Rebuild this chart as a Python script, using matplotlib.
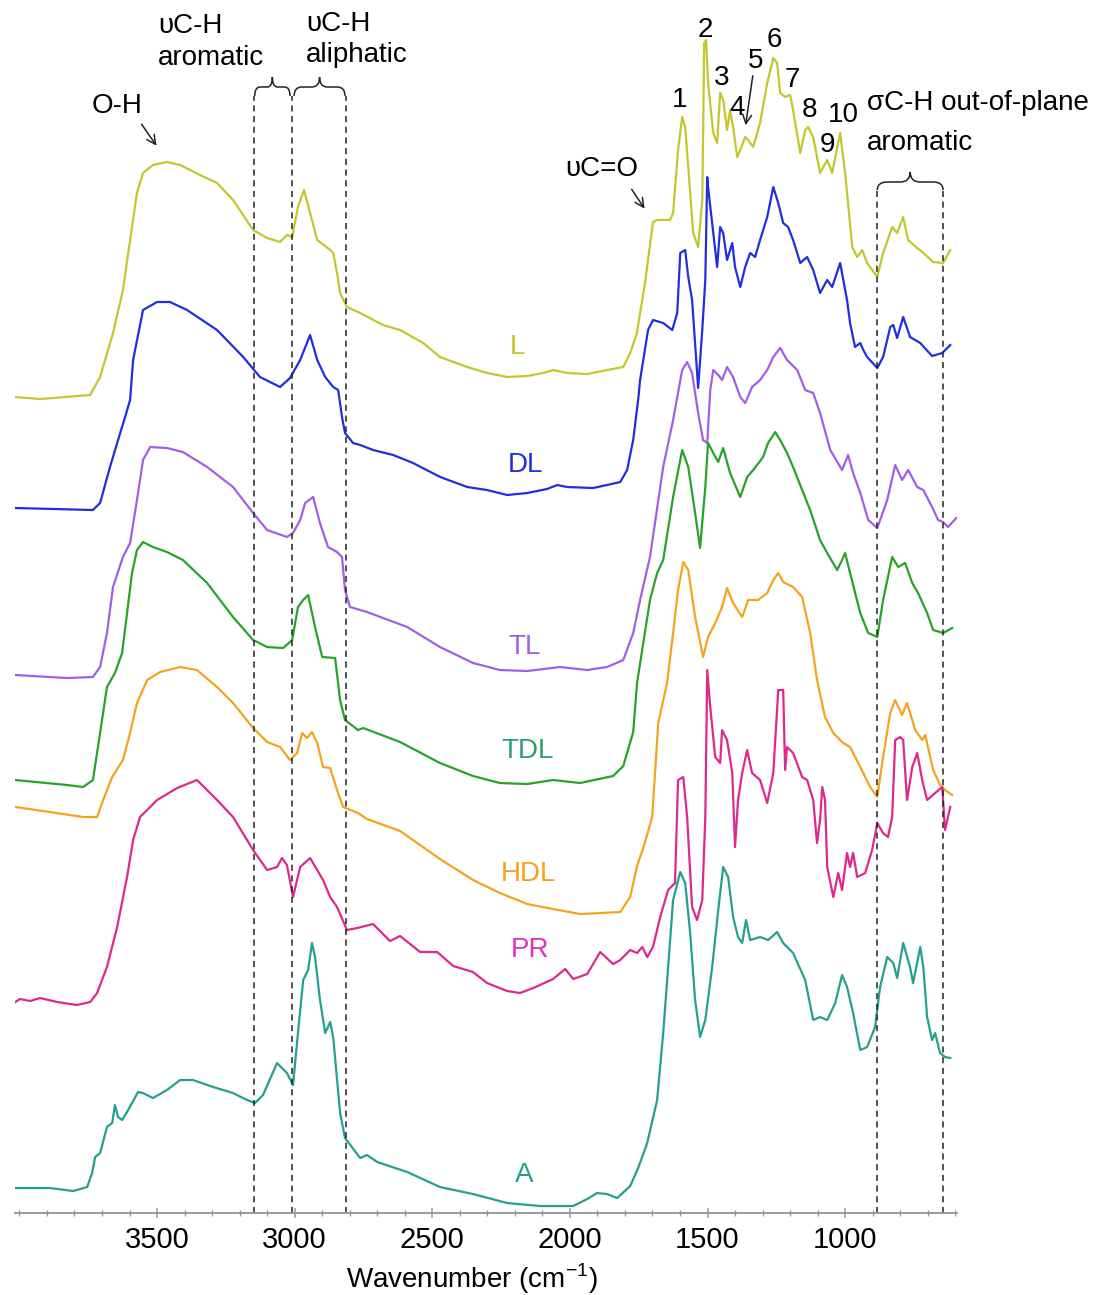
import matplotlib
matplotlib.use('Agg')
import matplotlib.pyplot as plt
from matplotlib.path import Path
from matplotlib.patches import PathPatch
from matplotlib.ticker import MultipleLocator

plt.rcParams['font.family'] = ['Liberation Sans', 'DejaVu Sans']
plt.rcParams['mathtext.fontset'] = 'custom'
plt.rcParams['mathtext.rm'] = 'Liberation Sans'

# FTIR spectra, wavenumber (cm-1) vs absorbance (stacked, arbitrary units)
wn_L = [4015, 3925, 3743, 3707, 3660, 3624, 3598, 3573, 3551, 3515, 3464, 3416, 3344, 3282, 3224, 3151, 3100, 3053,
        3028, 3009, 2988, 2966, 2944, 2918, 2871, 2860, 2846, 2835, 2810, 2762, 2679, 2617, 2533, 2472, 2373, 2301,
        2228, 2155, 2097, 2061, 2010, 1937, 1865, 1806, 1781, 1756, 1745, 1727, 1698, 1683, 1636, 1625, 1607, 1592,
        1581, 1570, 1552, 1534, 1519, 1512, 1505, 1498, 1479, 1465, 1454, 1443, 1429, 1418, 1407, 1392, 1381, 1363,
        1352, 1334, 1309, 1283, 1261, 1247, 1236, 1218, 1200, 1189, 1163, 1145, 1134, 1116, 1091, 1065, 1047, 1018,
        1000, 974, 956, 938, 920, 883, 862, 829, 811, 789, 771, 738, 716, 680, 644, 618]
ab_L = [8.16, 8.14, 8.18, 8.36, 8.80, 9.23, 9.73, 10.20, 10.40, 10.48, 10.51, 10.48, 10.38, 10.30, 10.13, 9.83, 9.75,
        9.71, 9.78, 9.76, 10.06, 10.23, 10.00, 9.73, 9.63, 9.60, 9.40, 9.20, 9.06, 9.00, 8.88, 8.83, 8.70, 8.56, 8.46,
        8.40, 8.36, 8.37, 8.40, 8.43, 8.40, 8.39, 8.43, 8.46, 8.60, 8.80, 9.00, 9.30, 9.91, 9.93, 9.93, 10.00, 10.63,
        10.96, 10.86, 10.46, 9.80, 9.66, 10.13, 11.70, 11.73, 11.30, 10.80, 10.70, 11.20, 11.13, 10.83, 11.03, 10.86,
        10.56, 10.63, 10.76, 10.73, 10.66, 10.90, 11.30, 11.55, 11.50, 11.20, 11.16, 11.18, 11.03, 10.60, 10.83, 10.86,
        10.76, 10.40, 10.53, 10.40, 10.80, 10.40, 9.66, 9.56, 9.63, 9.50, 9.36, 9.60, 9.86, 9.80, 9.96, 9.73, 9.65,
        9.60, 9.51, 9.50, 9.63]

wn_DL = [4015, 3733, 3707, 3671, 3634, 3616, 3598, 3587, 3551, 3500, 3453, 3391, 3282, 3187, 3126, 3053, 3017, 2980,
         2944, 2918, 2889, 2860, 2842, 2828, 2817, 2788, 2762, 2715, 2642, 2570, 2471, 2373, 2301, 2228, 2155, 2083,
         2046, 2010, 1916, 1865, 1817, 1792, 1770, 1752, 1745, 1716, 1698, 1661, 1628, 1610, 1599, 1581, 1570, 1556,
         1534, 1519, 1508, 1501, 1498, 1479, 1465, 1454, 1443, 1429, 1410, 1400, 1381, 1363, 1345, 1327, 1309, 1283,
         1261, 1243, 1225, 1207, 1189, 1163, 1138, 1116, 1091, 1065, 1047, 1018, 993, 982, 964, 945, 934, 920, 883,
         862, 836, 825, 811, 789, 764, 727, 684, 647, 618]
ab_DL = [7.05, 7.03, 7.10, 7.46, 7.80, 7.96, 8.13, 8.53, 9.03, 9.11, 9.11, 9.03, 8.83, 8.56, 8.36, 8.26, 8.35, 8.53,
         8.78, 8.53, 8.36, 8.26, 8.23, 7.96, 7.80, 7.70, 7.68, 7.63, 7.58, 7.50, 7.36, 7.26, 7.23, 7.18, 7.20, 7.24,
         7.28, 7.26, 7.25, 7.28, 7.31, 7.43, 7.73, 8.13, 8.33, 8.83, 8.93, 8.90, 8.83, 9.00, 9.60, 9.63, 9.36, 9.13,
         8.25, 8.83, 9.33, 10.36, 10.26, 9.80, 9.46, 9.86, 9.80, 9.53, 9.70, 9.46, 9.26, 9.46, 9.60, 9.56, 9.73, 9.96,
         10.26, 10.10, 9.90, 9.86, 9.73, 9.50, 9.56, 9.43, 9.20, 9.33, 9.26, 9.50, 9.13, 8.90, 8.66, 8.70, 8.63, 8.56,
         8.45, 8.56, 8.86, 8.88, 8.75, 8.96, 8.76, 8.70, 8.57, 8.60, 8.68]

wn_TL = [4015, 3827, 3733, 3707, 3682, 3660, 3624, 3598, 3573, 3551, 3525, 3464, 3406, 3318, 3224, 3151, 3100, 3028,
         3006, 2980, 2962, 2933, 2908, 2879, 2846, 2828, 2817, 2799, 2737, 2591, 2472, 2352, 2254, 2155, 2036, 1937,
         1865, 1806, 1770, 1745, 1709, 1661, 1625, 1592, 1574, 1556, 1534, 1516, 1501, 1490, 1479, 1461, 1447, 1429,
         1407, 1381, 1363, 1338, 1309, 1283, 1261, 1236, 1211, 1174, 1145, 1116, 1091, 1054, 1011, 989, 971, 945, 916,
         883, 847, 818, 793, 771, 738, 716, 684, 662, 644, 626, 596]
ab_TL = [5.38, 5.35, 5.36, 5.46, 5.80, 6.26, 6.56, 6.70, 7.13, 7.53, 7.66, 7.65, 7.61, 7.46, 7.26, 7.00, 6.83, 6.76,
         6.80, 6.93, 7.10, 7.16, 6.90, 6.66, 6.61, 6.56, 6.23, 6.06, 6.01, 5.86, 5.66, 5.50, 5.43, 5.42, 5.46, 5.43,
         5.46, 5.53, 5.80, 6.13, 6.56, 7.46, 7.93, 8.43, 8.51, 8.40, 8.00, 7.73, 7.70, 8.23, 8.43, 8.38, 8.33, 8.46,
         8.36, 8.16, 8.10, 8.26, 8.33, 8.43, 8.56, 8.65, 8.53, 8.43, 8.23, 8.20, 8.00, 7.63, 7.43, 7.58, 7.40, 7.20,
         6.93, 6.85, 7.13, 7.48, 7.33, 7.43, 7.26, 7.23, 7.06, 6.93, 6.91, 6.86, 6.95]

wn_TDL = [4015, 3827, 3769, 3733, 3707, 3682, 3653, 3627, 3609, 3591, 3573, 3551, 3515, 3464, 3406, 3318, 3224, 3151,
          3100, 3042, 3009, 2988, 2969, 2951, 2926, 2900, 2853, 2835, 2817, 2770, 2751, 2617, 2472, 2352, 2254, 2155,
          2061, 1963, 1843, 1806, 1770, 1756, 1709, 1683, 1661, 1625, 1592, 1570, 1545, 1527, 1508, 1498, 1479, 1461,
          1443, 1418, 1381, 1356, 1334, 1298, 1280, 1254, 1236, 1211, 1189, 1156, 1127, 1091, 1065, 1029, 1011, 1000,
          982, 945, 916, 883, 862, 829, 807, 782, 756, 735, 702, 680, 644, 611]
ab_TDL = [4.33, 4.28, 4.26, 4.33, 4.80, 5.26, 5.40, 5.60, 6.00, 6.40, 6.63, 6.71, 6.66, 6.61, 6.53, 6.30, 5.96, 5.73,
          5.66, 5.65, 5.73, 6.06, 6.13, 6.18, 5.86, 5.56, 5.55, 5.13, 4.93, 4.83, 4.85, 4.71, 4.50, 4.37, 4.30, 4.29,
          4.33, 4.30, 4.37, 4.47, 4.81, 5.30, 6.13, 6.40, 6.53, 7.16, 7.63, 7.46, 7.00, 6.65, 7.26, 7.70, 7.60, 7.51,
          7.65, 7.40, 7.16, 7.36, 7.43, 7.56, 7.70, 7.81, 7.73, 7.60, 7.46, 7.23, 7.03, 6.73, 6.60, 6.43, 6.53, 6.60,
          6.40, 6.00, 5.80, 5.76, 6.13, 6.56, 6.46, 6.50, 6.30, 6.20, 6.00, 5.83, 5.80, 5.85]

wn_HDL = [4015, 3889, 3769, 3718, 3696, 3663, 3624, 3598, 3573, 3536, 3489, 3416, 3355, 3282, 3224, 3151, 3100, 3053,
          3017, 2991, 2973, 2955, 2937, 2918, 2897, 2871, 2846, 2824, 2770, 2737, 2617, 2472, 2352, 2254, 2155, 2061,
          1963, 1890, 1817, 1781, 1756, 1730, 1701, 1679, 1647, 1625, 1607, 1588, 1570, 1545, 1516, 1498, 1472, 1447,
          1429, 1407, 1374, 1352, 1316, 1283, 1261, 1243, 1225, 1189, 1156, 1127, 1102, 1073, 1043, 1007, 982, 945,
          909, 883, 862, 836, 818, 793, 775, 745, 720, 709, 680, 655, 637, 611]
ab_HDL = [4.06, 4.01, 3.96, 3.96, 4.13, 4.36, 4.53, 4.80, 5.10, 5.33, 5.41, 5.46, 5.43, 5.26, 5.10, 4.85, 4.71, 4.66,
          4.53, 4.60, 4.80, 4.75, 4.81, 4.70, 4.46, 4.45, 4.23, 4.06, 4.00, 3.94, 3.82, 3.54, 3.33, 3.20, 3.09, 3.04,
          2.99, 3.00, 3.01, 3.16, 3.47, 3.68, 3.96, 4.90, 5.30, 5.80, 6.23, 6.51, 6.43, 5.96, 5.56, 5.76, 5.90, 6.06,
          6.25, 6.10, 5.96, 6.13, 6.13, 6.20, 6.33, 6.40, 6.31, 6.26, 6.16, 5.80, 5.33, 4.96, 4.80, 4.70, 4.66, 4.46,
          4.26, 4.16, 4.56, 5.00, 5.13, 4.98, 5.10, 4.83, 4.73, 4.78, 4.43, 4.28, 4.23, 4.18]

wn_PR = [4015, 3998, 3961, 3925, 3863, 3791, 3743, 3718, 3682, 3645, 3609, 3587, 3562, 3525, 3500, 3427, 3355, 3282,
         3224, 3151, 3100, 3064, 3046, 3028, 3006, 2980, 2944, 2918, 2897, 2871, 2846, 2810, 2773, 2715, 2654, 2617,
         2544, 2482, 2424, 2352, 2301, 2228, 2181, 2133, 2061, 2017, 1988, 1937, 1890, 1843, 1817, 1781, 1756, 1737,
         1719, 1698, 1672, 1643, 1618, 1607, 1588, 1574, 1556, 1538, 1519, 1508, 1501, 1490, 1472, 1454, 1447, 1429,
         1410, 1400, 1389, 1374, 1356, 1338, 1309, 1283, 1261, 1243, 1225, 1218, 1211, 1189, 1156, 1138, 1116, 1102,
         1091, 1083, 1073, 1065, 1043, 1025, 1011, 993, 982, 971, 956, 927, 902, 883, 862, 844, 829, 818, 800, 789,
         775, 756, 738, 720, 702, 673, 647, 637, 618]
ab_PR = [2.11, 2.14, 2.12, 2.15, 2.11, 2.08, 2.11, 2.20, 2.46, 2.86, 3.36, 3.73, 3.96, 4.06, 4.13, 4.25, 4.33, 4.13,
         3.96, 3.63, 3.43, 3.46, 3.55, 3.48, 3.16, 3.46, 3.55, 3.43, 3.33, 3.16, 3.06, 2.83, 2.85, 2.89, 2.72, 2.77,
         2.61, 2.61, 2.47, 2.41, 2.30, 2.22, 2.20, 2.25, 2.34, 2.44, 2.34, 2.39, 2.61, 2.49, 2.53, 2.63, 2.60, 2.66,
         2.56, 2.66, 2.96, 3.23, 3.30, 4.33, 4.36, 3.96, 3.06, 2.93, 3.13, 3.96, 5.43, 5.06, 4.56, 4.50, 4.83, 4.73,
         4.40, 3.66, 4.13, 4.40, 4.63, 4.40, 4.33, 4.10, 4.40, 5.23, 5.23, 4.43, 4.66, 4.60, 4.36, 4.33, 4.13, 3.70,
         3.93, 4.26, 4.13, 3.46, 3.16, 3.40, 3.23, 3.60, 3.46, 3.60, 3.36, 3.40, 3.63, 3.90, 3.80, 3.76, 3.96, 4.73,
         4.76, 4.73, 4.13, 4.46, 4.60, 4.33, 4.13, 4.20, 4.26, 3.83, 4.06]

wn_A = [4015, 3889, 3805, 3754, 3736, 3725, 3707, 3682, 3663, 3653, 3642, 3627, 3605, 3569, 3551, 3515, 3464, 3416,
        3369, 3296, 3224, 3173, 3144, 3115, 3064, 3028, 3006, 2988, 2969, 2951, 2937, 2926, 2908, 2889, 2871, 2860,
        2835, 2817, 2762, 2737, 2700, 2591, 2472, 2352, 2228, 2108, 1988, 1937, 1901, 1865, 1828, 1781, 1752, 1719,
        1683, 1661, 1643, 1625, 1599, 1581, 1563, 1545, 1527, 1508, 1483, 1461, 1443, 1425, 1407, 1389, 1374, 1360,
        1345, 1309, 1280, 1247, 1225, 1189, 1145, 1116, 1091, 1065, 1036, 1011, 993, 971, 945, 920, 891, 873, 847,
        825, 811, 789, 764, 753, 727, 716, 702, 684, 673, 655, 637, 618]
ab_A = [0.25, 0.25, 0.22, 0.26, 0.40, 0.56, 0.60, 0.86, 0.90, 1.08, 0.96, 0.93, 1.03, 1.21, 1.20, 1.15, 1.23, 1.33,
        1.33, 1.26, 1.20, 1.13, 1.10, 1.18, 1.50, 1.40, 1.28, 1.80, 2.33, 2.43, 2.70, 2.56, 2.13, 1.80, 1.91, 1.76,
        1.00, 0.75, 0.55, 0.58, 0.51, 0.41, 0.26, 0.19, 0.10, 0.07, 0.07, 0.14, 0.20, 0.19, 0.15, 0.27, 0.45, 0.70,
        1.13, 1.80, 2.46, 3.13, 3.41, 3.30, 2.80, 2.13, 1.76, 1.93, 2.46, 3.03, 3.46, 3.36, 2.96, 2.76, 2.70, 2.93,
        2.73, 2.76, 2.73, 2.81, 2.70, 2.60, 2.33, 1.93, 1.96, 1.93, 2.10, 2.38, 2.26, 2.00, 1.63, 1.66, 1.86, 2.26,
        2.56, 2.50, 2.35, 2.70, 2.46, 2.30, 2.66, 2.46, 1.96, 1.73, 1.80, 1.60, 1.56, 1.55]

sample_names = ['L', 'DL', 'TL', 'TDL', 'HDL', 'PR', 'A']
band_numbers = ['1', '2', '3', '4', '5', '6', '7', '8', '9', '10']
tick_values = [3500, 3000, 2500, 2000, 1500, 1000]

spectra = [(wn_L, ab_L), (wn_DL, ab_DL), (wn_TL, ab_TL), (wn_TDL, ab_TDL),
           (wn_HDL, ab_HDL), (wn_PR, ab_PR), (wn_A, ab_A)]
line_colors = ['#c4c62e', '#1f2fe0', '#a25ee8', '#27a327', '#f5a31e', '#e0288c', '#23a08e']
text_colors = ['#c4c62e', '#1f2fe0', '#a25ee8', '#2e9e6e', '#f5a31e', '#e030c0', '#23a08e']
label_pos = [(2192, 8.66), (2163, 7.48), (2163, 5.66), (2155, 4.62), (2152, 3.39), (2144, 2.63), (2166, 0.38)]

fs = 20

fig = plt.figure(figsize=(10.98, 12.95), dpi=100)
ax = fig.add_axes([0.0137, 0.0633, 0.858, 0.9367])

for (wn, ab), c in zip(spectra, line_colors):
    ax.plot(wn, ab, color=c, lw=1.6, solid_joinstyle='round')

for name, c, (x, y) in zip(sample_names, text_colors, label_pos):
    ax.text(x, y, name, color=c, fontsize=fs, ha='center', va='center')

ax.set_xlim(4016, 593)
ax.set_ylim(0, 12.13)


def brace(x_a, x_b, y_end, y_mid, y_tip):
    # horizontal curly bracket, tip pointing up
    xm = (x_a + x_b) / 2.0
    d = (x_b - x_a) * 0.15
    verts = [(x_a, y_end), (x_a, y_mid), (x_a + d, y_mid),
             (xm - d, y_mid), (xm, y_mid), (xm, y_tip),
             (xm, y_mid), (xm + d, y_mid),
             (x_b - d, y_mid), (x_b, y_mid), (x_b, y_end)]
    codes = [Path.MOVETO, Path.CURVE3, Path.CURVE3,
             Path.LINETO, Path.CURVE3, Path.CURVE3,
             Path.CURVE3, Path.CURVE3,
             Path.LINETO, Path.CURVE3, Path.CURVE3]
    ax.add_patch(PathPatch(Path(verts, codes), fill=False, lw=1.1, color='#222222', clip_on=False))


# band regions
ax.vlines([3147, 3009, 2813], 0, 11.17, colors='#222222', linestyles=(0, (4, 3)), lw=1.1)
ax.vlines([883, 644], 0, 10.23, colors='#222222', linestyles=(0, (4, 3)), lw=1.1)
brace(3145, 3017, 11.17, 11.26, 11.36)
brace(3002, 2817, 11.17, 11.26, 11.36)
brace(883, 644, 10.23, 10.31, 10.41)

ax.text(3496, 11.80, 'υC-H', fontsize=fs, ha='left', va='baseline')
ax.text(3496, 11.48, 'aromatic', fontsize=fs, ha='left', va='baseline')
ax.text(2958, 11.82, 'υC-H', fontsize=fs, ha='left', va='baseline')
ax.text(2958, 11.51, 'aliphatic', fontsize=fs, ha='left', va='baseline')
ax.text(920, 11.03, 'σC-H out-of-plane', fontsize=fs, ha='left', va='baseline')
ax.text(920, 10.63, 'aromatic', fontsize=fs, ha='left', va='baseline')

ax.text(3645, 11.00, 'O-H', fontsize=fs, ha='center', va='baseline')
ax.annotate('', xy=(3496, 10.65), xytext=(3562, 10.91),
            arrowprops=dict(arrowstyle='->', lw=1.1, color='#222222', mutation_scale=16))
ax.text(1750, 10.37, 'υC=O', fontsize=fs, ha='right', va='baseline')
ax.annotate('', xy=(1723, 10.02), xytext=(1781, 10.26),
            arrowprops=dict(arrowstyle='->', lw=1.1, color='#222222', mutation_scale=16))

# numbered lignin bands on spectrum L
num_x = [1600, 1508, 1447, 1392, 1327, 1258, 1192, 1131, 1065, 1007]
num_y = [11.06, 11.76, 11.28, 10.98, 11.45, 11.66, 11.26, 10.96, 10.61, 10.91]
for s, x, y in zip(band_numbers, num_x, num_y):
    ax.text(x, y, s, fontsize=fs, ha='center', va='baseline')
ax.annotate('', xy=(1363, 10.85), xytext=(1334, 11.40),
            arrowprops=dict(arrowstyle='->', lw=1.1, color='#222222', mutation_scale=16))

for side in ['left', 'right', 'top']:
    ax.spines[side].set_visible(False)
ax.spines['bottom'].set_color('#9a9a9a')
ax.spines['bottom'].set_linewidth(1.4)
ax.set_yticks([])
ax.set_xticks(tick_values)
ax.xaxis.set_minor_locator(MultipleLocator(100))
ax.tick_params(axis='x', which='major', direction='inout', length=7, width=1.1, color='#9a9a9a',
               labelsize=21, pad=6)
ax.tick_params(axis='x', which='minor', direction='inout', length=5, width=1.0, color='#9a9a9a')
ax.set_xlabel('Wavenumber (cm$^{-1}$)', fontsize=20)
ax.xaxis.set_label_coords(0.485, -0.040)

fig.savefig('out.png', dpi=100)
